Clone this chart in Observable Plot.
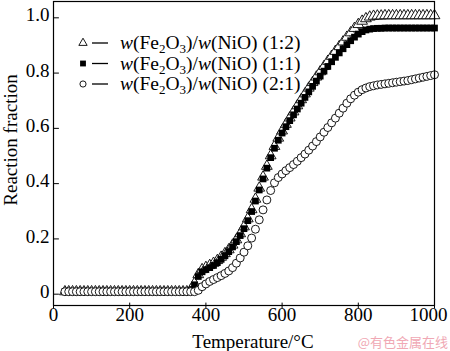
<!DOCTYPE html>
<html>
<head>
<meta charset="utf-8">
<script src="https://cdn.jsdelivr.net/npm/d3@7"></script>
<script src="https://cdn.jsdelivr.net/npm/@observablehq/plot@0.6"></script>
<style>
  html, body { margin: 0; padding: 0; background: #fff; }
  #chart { position: relative; width: 450px; height: 351px; }
</style>
</head>
<body>
<div id="chart"></div>
<script>
const temps = [30,40,50,60,70,80,90,100,110,120,130,140,150,160,170,180,190,200,210,220,230,240,250,260,270,280,290,300,310,320,330,340,350,360,370,380,390,400,410,420,430,440,450,460,470,480,490,500,510,520,530,540,550,560,570,580,590,600,610,620,630,640,650,660,670,680,690,700,710,720,730,740,750,760,770,780,790,800,810,820,830,840,850,860,870,880,890,900,910,920,930,940,950,960,970,980,990,1000];

const ratio12 = [0,0,0,0,0,0,0,0,0,0,0,0,0,0,0,0,0,0,0,0,0,0,0,0,0,0,0,0,0,0,0,0,0,
  0.006,0.03,0.062,0.08,0.088,0.095,0.103,0.113,0.125,0.138,0.152,0.169,0.188,0.21,0.235,0.264,0.297,0.335,0.375,0.415,0.454,0.492,0.526,0.556,0.582,0.606,0.629,0.651,0.673,0.695,0.716,0.737,0.757,0.777,0.796,0.815,0.834,0.852,0.87,0.887,0.904,0.921,0.937,0.953,0.967,0.979,0.988,0.994,0.997,0.998,0.998,0.999,0.999,0.999,0.999,0.999,0.999,0.999,0.999,0.999,0.999,0.999,0.999,0.999,0.999];

const ratio11 = [0,0,0,0,0,0,0,0,0,0,0,0,0,0,0,0,0,0,0,0,0,0,0,0,0,0,0,0,0,0,0,0,0,
  0.004,0.025,0.055,0.072,0.08,0.087,0.095,0.105,0.117,0.13,0.145,0.162,0.181,0.203,0.228,0.257,0.29,0.328,0.368,0.408,0.447,0.485,0.519,0.548,0.574,0.597,0.619,0.64,0.661,0.682,0.703,0.723,0.743,0.762,0.78,0.798,0.815,0.832,0.848,0.864,0.879,0.894,0.908,0.921,0.932,0.941,0.947,0.95,0.952,0.953,0.953,0.954,0.954,0.954,0.954,0.954,0.954,0.954,0.954,0.954,0.954,0.954,0.954,0.954,0.954];

const ratio21 = [0,0,0,0,0,0,0,0,0,0,0,0,0,0,0,0,0,0,0,0,0,0,0,0,0,0,0,0,0,0,0,0,0,0,0,
  0.005,0.018,0.028,0.037,0.044,0.051,0.058,0.066,0.075,0.087,0.103,0.122,0.143,0.166,0.194,0.226,0.26,0.296,0.332,0.366,0.394,0.413,0.426,0.438,0.449,0.46,0.472,0.485,0.498,0.512,0.527,0.543,0.56,0.577,0.594,0.611,0.628,0.646,0.664,0.682,0.698,0.711,0.722,0.731,0.737,0.742,0.745,0.748,0.75,0.752,0.754,0.756,0.758,0.76,0.762,0.764,0.767,0.77,0.773,0.776,0.779,0.782,0.785];

const xTicks = [0,200,400,600,800,1000];
const yTicks = [0,0.2,0.4,0.6,0.8,1.0];
const yTickLabels = ["0","0.2","0.4","0.6","0.8","1.0"];
const seriesNames = ["(1:2)","(1:1)","(2:1)"];

const rows = (vals) => temps.map((t, i) => ({t, v: vals[i]}));
const FONT = "'Liberation Serif', 'Times New Roman', serif";

const tickUp = {draw(ctx, l) { ctx.moveTo(0, 0); ctx.lineTo(0, -l); }};
const tickRight = {draw(ctx, l) { ctx.moveTo(0, 0); ctx.lineTo(l, 0); }};

const plot = Plot.plot({
  width: 450,
  height: 351,
  marginLeft: 53,
  marginRight: 16,
  marginTop: 1,
  marginBottom: 46,
  style: {fontFamily: FONT, fontSize: "19px", background: "#fff", color: "#000"},
  x: {domain: [0, 1000]},
  y: {domain: [-0.05, 1.05]},
  marks: [
    Plot.axisX(xTicks, {tickSize: 0, tickPadding: 2, fontSize: 19, label: null, tickFormat: (d) => String(d)}),
    Plot.axisY(yTicks, {tickSize: 0, tickPadding: 4, fontSize: 19, label: null,
      tickFormat: (d) => yTickLabels[yTicks.indexOf(d)]}),
    Plot.vectorX(xTicks, {x: (d) => d, frameAnchor: "bottom", length: 5, shape: tickUp, stroke: "#000", strokeWidth: 1}),
    Plot.vectorY(yTicks, {y: (d) => d, frameAnchor: "left", length: 5, shape: tickRight, stroke: "#000", strokeWidth: 1}),
    Plot.dot(rows(ratio12), {x: "t", y: "v", symbol: "triangle", r: 4, stroke: "#000", fill: "#fff", strokeWidth: 0.9}),
    Plot.dot(rows(ratio11), {x: "t", y: "v", symbol: "square", r: 3.8, fill: "#000", stroke: "none"}),
    Plot.dot(rows(ratio21), {x: "t", y: "v", symbol: "circle", r: 4, stroke: "#000", fill: "#fff", strokeWidth: 0.9}),
    Plot.frame({stroke: "#000", strokeWidth: 1.2})
  ]
});

document.getElementById("chart").appendChild(plot);

const svg = d3.select(plot);
// shift the last x tick label ("1000") a little left so it stays inside, as in the reference
svg.selectAll("[aria-label='x-axis tick label'] text")
  .filter((d, i, nodes) => i === nodes.length - 1)
  .attr("dx", -6);

// axis titles
svg.append("text")
  .attr("transform", "translate(17,140) rotate(-90)")
  .attr("text-anchor", "middle")
  .attr("font-family", FONT).attr("font-size", 19)
  .text("Reaction fraction");
svg.append("text")
  .attr("x", 253).attr("y", 348)
  .attr("text-anchor", "middle")
  .attr("font-family", FONT).attr("font-size", 19)
  .text("Temperature/°C");

// legend
const symbols = [d3.symbolTriangle, d3.symbolSquare, d3.symbolCircle];
const fills = ["#fff", "#000", "#fff"];
const lg = svg.append("g").attr("font-family", FONT).attr("font-size", 19.5).attr("text-anchor", "start");
seriesNames.forEach((name, i) => {
  const cy = 43 + i * 20.5;
  lg.append("path")
    .attr("transform", `translate(83,${cy})`)
    .attr("d", d3.symbol(symbols[i], i === 1 ? 34 : 30)())
    .attr("fill", fills[i]).attr("stroke", i === 1 ? "none" : "#000").attr("stroke-width", 0.9);
  lg.append("line").attr("x1", 92).attr("x2", 108).attr("y1", cy).attr("y2", cy)
    .attr("stroke", "#000").attr("stroke-width", 1.3);
  const t = lg.append("text").attr("x", 120).attr("y", cy + 6).attr("text-anchor", "start");
  t.append("tspan").attr("font-style", "italic").text("w");
  t.append("tspan").text("(Fe");
  t.append("tspan").attr("font-size", 13).attr("dy", 4).text("2");
  t.append("tspan").attr("dy", -4).text("O");
  t.append("tspan").attr("font-size", 13).attr("dy", 4).text("3");
  t.append("tspan").attr("dy", -4).text(")/");
  t.append("tspan").attr("font-style", "italic").text("w");
  t.append("tspan").text("(NiO) " + name);
});

// watermark
svg.append("text")
  .attr("x", 448).attr("y", 347)
  .attr("text-anchor", "end")
  .attr("font-family", "'Noto Sans CJK SC', sans-serif").attr("font-size", 13)
  .attr("fill", "#f0a8b4")
  .text("@有色金属在线");
</script>
</body>
</html>
